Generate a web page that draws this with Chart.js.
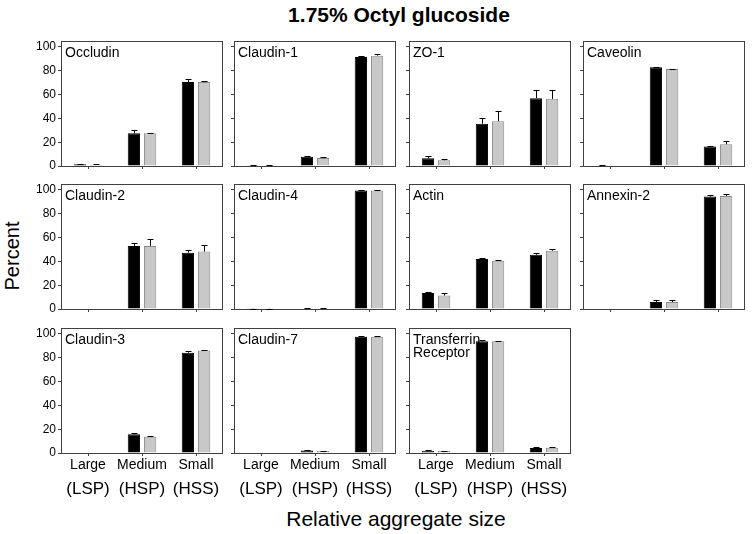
<!DOCTYPE html>
<html><head><meta charset="utf-8">
<script src="https://cdn.jsdelivr.net/npm/chart.js@4.4.1/dist/chart.umd.min.js"></script>
<style>
body{margin:0;width:753px;height:534px;background:#fff;position:relative;overflow:hidden;font-family:"Liberation Sans",Arial,sans-serif;color:#000;}
canvas{position:absolute;}
.txt{position:absolute;white-space:nowrap;}
#title{left:399px;top:3px;transform:translateX(-50%);font-weight:bold;font-size:21px;}
#ytitle{left:12px;top:256px;transform:translate(-50%,-50%) rotate(-90deg);font-size:20px;}
#xtitle{left:396px;top:507px;transform:translateX(-50%);font-size:21px;}
</style>
</head><body>
<div class="txt" id="title">1.75% Octyl glucoside</div>
<div class="txt" id="ytitle">Percent</div>
<div class="txt" id="xtitle">Relative aggregate size</div>
<script>
// ---- data ----
const categories = ['Large', 'Medium', 'Small'];
const categoryCodes = ['(LSP)', '(HSP)', '(HSS)'];
const proteins = ['Occludin', 'Claudin-1', 'ZO-1', 'Caveolin', 'Claudin-2', 'Claudin-4', 'Actin', 'Annexin-2', 'Claudin-3', 'Claudin-7', 'Transferrin\nReceptor'];
const blackValues = [
  [1.5, 27.5, 70.5],
  [0.3, 7.8, 91.5],
  [6.5, 35.5, 57],
  [0.3, 83, 16.3],
  [0, 53, 47.3],
  [0.2, 0.5, 99.5],
  [13.5, 42, 45.6],
  [0, 5.9, 94.4],
  [0, 15.7, 84.3],
  [0, 2.2, 97.7],
  [1.9, 93.8, 4.2]
];
const blackErrors = [
  [0.5, 3, 3],
  [0.2, 0.5, 0.5],
  [2.2, 5, 6.7],
  [0.2, 0.5, 0.3],
  [0, 2.2, 2],
  [0.2, 0.3, 0.5],
  [1, 0.5, 1.4],
  [0, 1.5, 1.4],
  [0, 1.4, 1.7],
  [0, 0.3, 0.5],
  [0.4, 1.2, 1.2]
];
const grayValues = [
  [1, 27.5, 70.5],
  [0.3, 6.7, 92.7],
  [4.8, 37.6, 56.4],
  [0, 81.4, 18.3],
  [0, 53, 48.2],
  [0.2, 0.5, 99.5],
  [11.3, 40.6, 49],
  [0, 5.9, 95],
  [0, 13.7, 86.2],
  [0, 1.7, 97.7],
  [1.7, 93.8, 4.5]
];
const grayErrors = [
  [0.5, 0.5, 0.5],
  [0.2, 0.7, 1],
  [0.7, 8.5, 7.6],
  [0, 0.5, 2.5],
  [0, 5.5, 5.3],
  [0.2, 0.3, 0.5],
  [2, 0.5, 1.7],
  [0, 1.7, 2],
  [0, 0.7, 0.5],
  [0, 0.3, 0.5],
  [0.3, 0.5, 0.5]
];
const yTicks = [0, 20, 40, 60, 80, 100];

// ---- layout ----
const FONT = '"Liberation Sans", Arial, sans-serif';
const colLeft = [61, 234, 409, 583];
const rowTop = [41, 184, 328];
const plotW = 162, plotH = 125, yAxisW = 42, padTop = 10, padRight = 3;
const frameColor = '#404040';

const framePlugin = {
  id: 'frame',
  afterDatasetsDraw(chart) {
    const {ctx, chartArea: a} = chart;
    ctx.save();
    ctx.strokeStyle = frameColor;
    ctx.lineWidth = 1;
    ctx.strokeRect(Math.round(a.left) + 0.5, Math.round(a.top) + 0.5,
      Math.round(a.right - a.left) - 1, Math.round(a.bottom - a.top));
    ctx.restore();
  }
};

const errorBarPlugin = {
  id: 'errorBars',
  afterDatasetsDraw(chart) {
    const ctx = chart.ctx, yS = chart.scales.y;
    ctx.save();
    ctx.strokeStyle = '#000';
    ctx.lineWidth = 1;
    chart.data.datasets.forEach((ds, di) => {
      const meta = chart.getDatasetMeta(di);
      meta.data.forEach((bar, j) => {
        const v = ds.data[j], e = ds.errors[j];
        if (!e) return;
        const x = Math.round(bar.x) + 0.5;
        const y0 = yS.getPixelForValue(v);
        const y1 = Math.round(yS.getPixelForValue(v + e)) + 0.5;
        ctx.beginPath();
        ctx.moveTo(x, y0); ctx.lineTo(x, y1);
        ctx.moveTo(x - 3, y1); ctx.lineTo(x + 3, y1);
        ctx.stroke();
      });
    });
    ctx.restore();
  }
};

const panelLabelPlugin = {
  id: 'panelLabel',
  afterDraw(chart, args, opts) {
    const {ctx, chartArea: a} = chart;
    ctx.save();
    ctx.fillStyle = '#000';
    ctx.font = '14px ' + FONT;
    ctx.textBaseline = 'alphabetic';
    String(opts.text).split('\n').forEach((line, k) => {
      ctx.fillText(line, a.left + 4, a.top + 16 + k * 13);
    });
    ctx.restore();
  }
};

proteins.forEach((name, i) => {
  const row = Math.floor(i / 4), col = i % 4;
  const isBottom = row === 2;
  const showY = col === 0;
  const axis1H = isBottom ? 21 : 10;
  const axis2H = isBottom ? 26 : 0;
  const w = yAxisW + plotW + padRight;
  const h = padTop + plotH + axis1H + axis2H;
  const canvas = document.createElement('canvas');
  canvas.width = w; canvas.height = h;
  canvas.style.width = w + 'px'; canvas.style.height = h + 'px';
  canvas.style.left = (colLeft[col] - yAxisW) + 'px';
  canvas.style.top = (rowTop[row] - padTop) + 'px';
  document.body.appendChild(canvas);

  const scales = {
    x: {
      type: 'category', offset: true,
      grid: {display: true, drawOnChartArea: false, offset: false, drawTicks: true, tickLength: 3, color: frameColor},
      border: {display: false},
      ticks: {display: isBottom, autoSkip: false, maxRotation: 0, padding: 1, color: '#000', font: {family: FONT, size: 14}},
      afterFit: s => { s.height = axis1H; }
    },
    y: {
      min: 0, max: 105,
      afterBuildTicks: s => { s.ticks = yTicks.map(v => ({value: v})); },
      grid: {drawOnChartArea: false, drawTicks: true, tickLength: 3, color: frameColor},
      border: {display: false},
      ticks: {display: showY, padding: 2, color: '#000', font: {family: FONT, size: 12}},
      afterFit: s => { s.width = yAxisW; }
    }
  };
  if (isBottom) {
    scales.x2 = {
      type: 'category', position: 'bottom', weight: 1, labels: categoryCodes, offset: true,
      grid: {display: false, drawTicks: false},
      border: {display: false},
      ticks: {autoSkip: false, maxRotation: 0, padding: 5, color: '#000', font: {family: FONT, size: 17}},
      afterFit: s => { s.height = axis2H; }
    };
  }

  new Chart(canvas, {
    type: 'bar',
    data: {
      labels: categories,
      datasets: [
        {data: blackValues[i], errors: blackErrors[i], backgroundColor: '#000', borderColor: '#000', borderWidth: 1,
         categoryPercentage: 0.6, barPercentage: 0.76},
        {data: grayValues[i], errors: grayErrors[i], backgroundColor: '#c8c8c8', borderColor: '#8a8a8a', borderWidth: 1,
         categoryPercentage: 0.6, barPercentage: 0.76}
      ]
    },
    options: {
      responsive: false, animation: false, devicePixelRatio: 1,
      layout: {padding: {top: padTop, right: padRight, left: 0, bottom: 0}},
      plugins: {legend: {display: false}, tooltip: {enabled: false}, panelLabel: {text: name}},
      scales
    },
    plugins: [framePlugin, errorBarPlugin, panelLabelPlugin]
  });
});
</script>
</body></html>
